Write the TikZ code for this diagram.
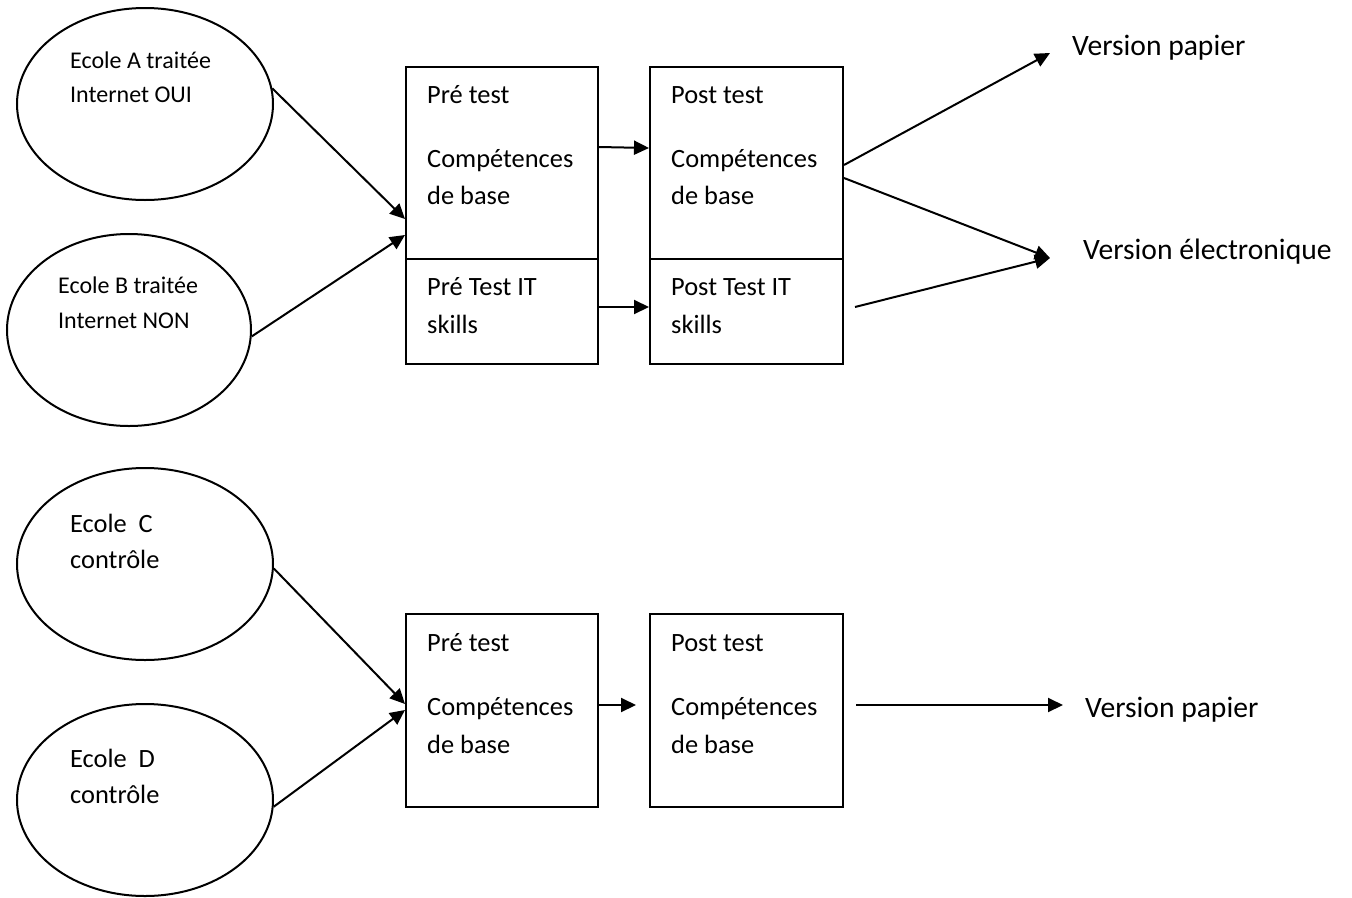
\documentclass[tikz,border=0pt]{standalone}
\usepackage{fontspec}
\setmainfont{Carlito}
\usetikzlibrary{shapes.geometric,arrows.meta}
\begin{document}
\begin{tikzpicture}[x=1pt,y=-1pt,
  lw/.style={line width=2pt},
  school/.style={draw,lw,ellipse,minimum width=256pt,minimum height=192pt,inner sep=0pt},
  box/.style={draw,lw,rectangle,minimum width=192pt,inner sep=0pt},
  txt/.style={anchor=base west,inner sep=0pt,font=\fontsize{26.4}{32}\selectfont},
  stxt/.style={anchor=base west,inner sep=0pt,font=\fontsize{24}{29}\selectfont},
  ltxt/.style={anchor=base west,inner sep=0pt,font=\fontsize{29.6}{35}\selectfont},
  arr/.style={lw,-{Triangle[length=15pt,width=14pt]}},
]
\useasboundingbox (0,0) rectangle (1352,897);

% schools
\node[school] (eA) at (145,104) {};
\node[school,minimum width=244pt] (eB) at (129,330) {};
\node[school] (eC) at (145,564) {};
\node[school] (eD) at (145,800) {};

\node[stxt] (tA1) at (70,68) {Ecole A traitée};
\node[stxt] (tA2) at (70,102) {Internet OUI};
\node[stxt] (tB1) at (58,293) {Ecole B traitée};
\node[stxt] (tB2) at (58,328) {Internet NON};
\node[txt] (tC1) at (70,532) {Ecole~~C};
\node[txt] (tC2) at (70,568) {contrôle};
\node[txt] (tD1) at (70,767) {Ecole~~D};
\node[txt] (tD2) at (70,803) {contrôle};

% boxes, top row
\node[box,minimum height=192pt] (preA) at (502,163) {};
\node[box,minimum height=105pt] (preB) at (502,311.5) {};
\node[box,minimum width=193pt,minimum height=192pt] (postA) at (746.5,163) {};
\node[box,minimum width=193pt,minimum height=105pt] (postB) at (746.5,311.5) {};

\node[txt] (p1) at (427,103) {Pré test};
\node[txt] (p2) at (427,167) {Compétences};
\node[txt] (p3) at (427,204) {de base};
\node[txt] (p4) at (427,295) {Pré Test IT};
\node[txt] (p5) at (427,333) {skills};
\node[txt] (q1) at (671,103) {Post test};
\node[txt] (q2) at (671,167) {Compétences};
\node[txt] (q3) at (671,204) {de base};
\node[txt] (q4) at (671,295) {Post Test IT};
\node[txt] (q5) at (671,333) {skills};

% boxes, bottom row
\node[box,minimum height=193pt] (preC) at (502,710.5) {};
\node[box,minimum width=193pt,minimum height=193pt] (postC) at (746.5,710.5) {};
\node[txt] (r1) at (427,651) {Pré test};
\node[txt] (r2) at (427,715) {Compétences};
\node[txt] (r3) at (427,753) {de base};
\node[txt] (s1) at (671,651) {Post test};
\node[txt] (s2) at (671,715) {Compétences};
\node[txt] (s3) at (671,753) {de base};

% labels
\node[ltxt] (vp1) at (1072,55) {Version papier};
\node[ltxt] (ve) at (1083,259) {Version électronique};
\node[ltxt] (vp2) at (1085,717) {Version papier};

% connectors top
\draw[arr] (eA.7) -- ([yshift=-56pt]preA.west);
\draw[arr] (eB.-3) -- ([yshift=-72pt]preA.west);
\draw[arr] ([yshift=16pt]preA.east) -- ([yshift=15pt]postA.west);
\draw[arr] ([yshift=4.5pt]preB.east) -- ([yshift=4.5pt]postB.west);
\draw[arr] ([yshift=-2pt]postA.east) -- ([xshift=-22pt,yshift=2pt]vp1.base west);
\draw[arr] ([yshift=-15pt]postA.east) -- ([xshift=-33pt,yshift=1pt]ve.base west);
\coordinate (itout) at (855,307);
\draw[arr] (itout) -- ([xshift=-33pt,yshift=1pt]ve.base west);

% connectors bottom
\draw[arr] (eC.-2) -- ([yshift=6.5pt]preC.west);
\draw[arr] (eD.-3) -- ([yshift=0.5pt]preC.west);
\draw[arr] ([yshift=5.5pt]preC.east) -- ([xshift=-13pt,yshift=5.5pt]postC.west);
\draw[arr] ([xshift=12pt,yshift=5.5pt]postC.east) -- ([xshift=-22pt,yshift=12pt]vp2.base west);
\end{tikzpicture}
\end{document}
